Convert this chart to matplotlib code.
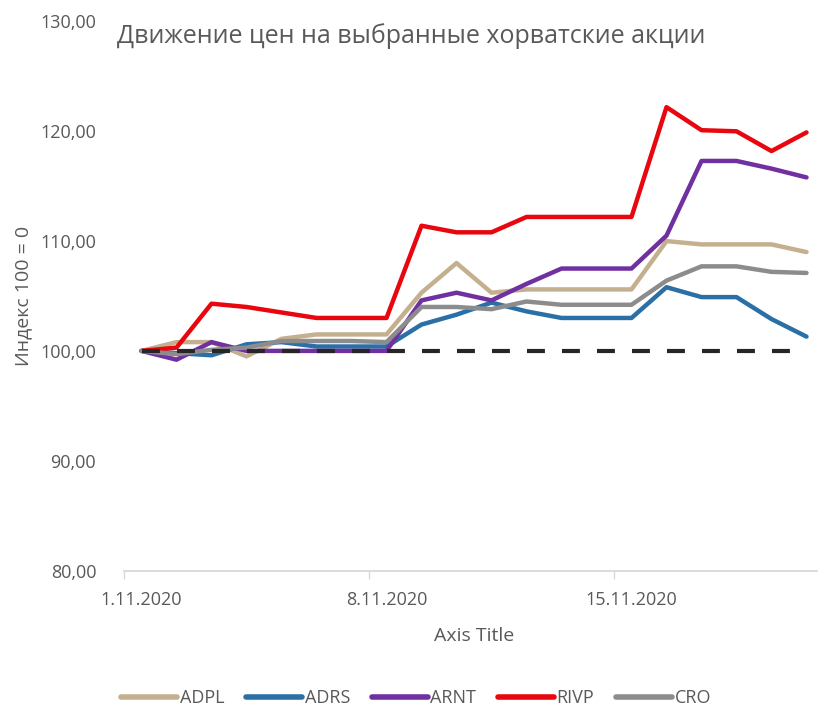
import numpy as np
import matplotlib
matplotlib.use("Agg")
import matplotlib.pyplot as plt

plt.rcParams['font.family'] = ['Open Sans', 'DejaVu Sans']

dates = ["%d.11.2020" % d for d in range(1, 21)]
tick_labels = ["1.11.2020", "8.11.2020", "15.11.2020"]
ADPL = [100, 100.8, 100.8, 99.5, 101.1, 101.5, 101.5, 101.5, 105.3, 108.0,
        105.3, 105.6, 105.6, 105.6, 105.6, 110.0, 109.7, 109.7, 109.7, 109.0]
ADRS = [100, 99.8, 99.6, 100.6, 100.8, 100.4, 100.4, 100.4, 102.4, 103.3,
        104.4, 103.6, 103.0, 103.0, 103.0, 105.8, 104.9, 104.9, 102.9, 101.3]
ARNT = [100, 99.2, 100.8, 100.0, 100.0, 100.0, 100.0, 100.0, 104.6, 105.3,
        104.6, 106.1, 107.5, 107.5, 107.5, 110.5, 117.3, 117.3, 116.6, 115.8]
RIVP = [100, 100.3, 104.3, 104.0, 103.5, 103.0, 103.0, 103.0, 111.4, 110.8,
        110.8, 112.2, 112.2, 112.2, 112.2, 122.2, 120.1, 120.0, 118.2, 119.9]
CRO = [100, 99.7, 100.1, 100.3, 100.9, 100.9, 100.9, 100.8, 104.0, 104.0,
       103.8, 104.5, 104.2, 104.2, 104.2, 106.4, 107.7, 107.7, 107.2, 107.1]
base = [100] * len(dates)

series = [("ADPL", ADPL, "#C4B08F"), ("ADRS", ADRS, "#2A70A6"),
          ("ARNT", ARNT, "#7030A0"), ("RIVP", RIVP, "#E8070F"),
          ("CRO", CRO, "#8C8C8C")]

fig = plt.figure(figsize=(8.18, 7.09), dpi=100)
ax = fig.add_axes([124/818, 1-570.5/709, 700/818, 549/709])
x = np.arange(len(dates)) + 0.5

ax.plot(x, base, color="#262626", lw=3, dashes=(4.3, 4.1), dash_capstyle="butt", zorder=3)
for name, vals, col in series:
    ax.plot(x, vals, color=col, lw=3.2, label=name, solid_capstyle="round")

ax.set_yticks(np.arange(80, 131, 10))
ax.set_yticklabels(["%d,00" % v for v in range(80, 131, 10)])
ax.set_xticks([0.5, 7.5, 14.5])
ax.set_xticklabels(tick_labels)
ax.set_xticks([0, 7, 14], minor=True)
ax.set_xlim(0, 20)
ax.set_ylim(80, 130)
ax.tick_params(axis="x", which="major", length=0, pad=15, labelsize=13, labelcolor="#595959")
ax.tick_params(axis="x", which="minor", length=6, width=1, color="#D9D9D9")
ax.tick_params(axis="y", length=0, pad=20, labelsize=13, labelcolor="#595959")
for s in ["top", "right", "left"]:
    ax.spines[s].set_visible(False)
ax.spines["bottom"].set_color("#D9D9D9")
ax.spines["bottom"].set_linewidth(1.3)

ax.set_xlabel("Axis Title", fontsize=14, color="#595959", labelpad=13)
ax.set_ylabel("Индекс 100 = 0", fontsize=14, color="#595959", labelpad=6)
fig.text(117/818, 1-43/709, "Движение цен на выбранные хорватские акции",
         fontsize=18, color="#595959", va="baseline", ha="left")

leg = fig.legend(loc="center", bbox_to_anchor=(416/818, 1-698/709), ncol=5, frameon=False,
                 fontsize=13, handlelength=3.1, handletextpad=0.15, columnspacing=1.2,
                 labelcolor="#595959")
for ln in leg.get_lines():
    ln.set_linewidth(4)
    ln.set_solid_capstyle("round")

fig.savefig("out.png", dpi=100)
